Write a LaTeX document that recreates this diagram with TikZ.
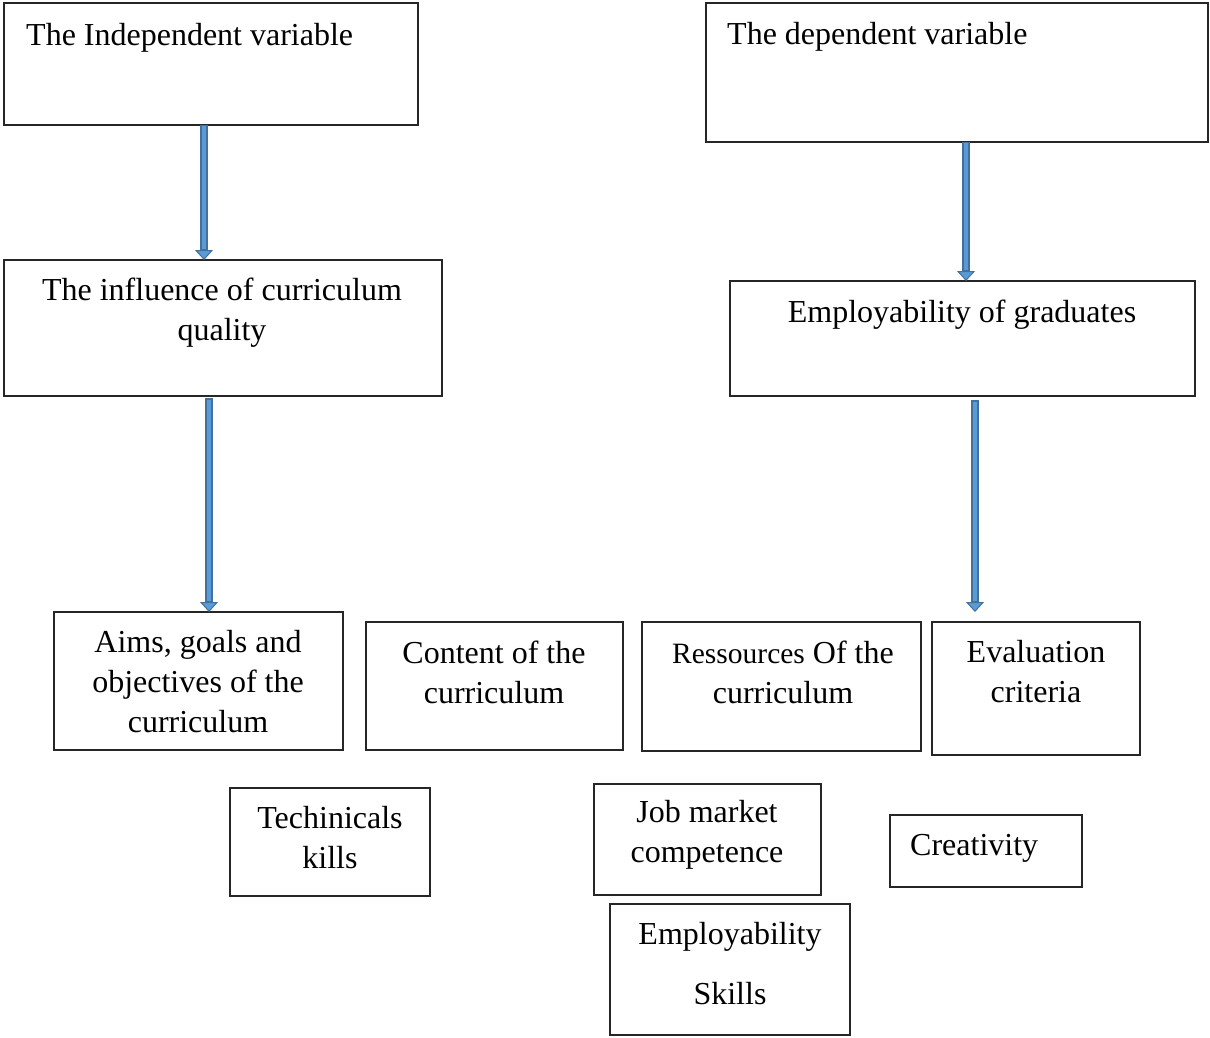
\documentclass[tikz,border=0pt]{standalone}
\usepackage{fontspec}
\setmainfont{Liberation Serif}
\usetikzlibrary{arrows.meta}
\definecolor{arrline}{HTML}{41719C}
\definecolor{arrfill}{HTML}{5B9BD5}
\newcommand\mybox[5]{\node[box, minimum width={(#4-#2)*1pt}, minimum height={(#5-#3)*1pt}] (#1) at ({(#2+#4)/2},{(#3+#5)/2}) {};}
\begin{document}
\begin{tikzpicture}[x=1pt,y=-1pt,
  box/.style={draw=black!85, line width=1.3pt, inner sep=0pt, outer sep=0pt, fill=white},
  txt/.style={inner sep=0pt, font=\fontsize{32}{40}\selectfont, align=center},
  arrouter/.style={draw=arrline, line width=8pt, -{Triangle[width=18pt,length=10pt,line width=1pt,fill=arrfill]}},
  arrinner/.style={draw=arrfill, line width=3.5pt, shorten <=1.5pt, shorten >=11pt}
]
\useasboundingbox[fill=white] (0,0) rectangle (1210,1038);

\mybox{b1}{4}{3}{418}{125}
\mybox{b2}{706}{3}{1208}{142}
\mybox{b3}{4}{260}{442}{396}
\mybox{b4}{730}{281}{1195}{396}
\mybox{b5}{54}{612}{343}{750}
\mybox{b6}{366}{622}{623}{750}
\mybox{b7}{642}{622}{921}{751}
\mybox{b8}{932}{622}{1140}{755}
\mybox{b9}{230}{788}{430}{896}
\mybox{b10}{594}{784}{821}{895}
\mybox{b11}{890}{815}{1082}{887}
\mybox{b12}{610}{904}{850}{1035}

\node[txt, anchor=west] (t1) at (26,38) {The Independent variable};
\node[txt, anchor=west] (t2) at (727,37) {The dependent variable};
\node[txt] (t3) at (222,313) {The influence of curriculum\\quality};
\node[txt] (t4) at (962,315) {Employability of graduates};
\node[txt] (t5) at (198,682) {Aims, goals and\\objectives of the\\curriculum};
\node[txt] (t6) at (494,672) {Content of the\\curriculum};
\node[txt] (t7) at (783,672) {{\fontsize{29.5}{40}\selectfont Ressources} Of the\\curriculum};
\node[txt] (t8) at (1036,672) {Evaluation\\criteria};
\node[txt] (t9) at (330,838) {Techinicals\\kills};
\node[txt] (t10) at (707,835) {Job market\\competence};
\node[txt, anchor=west] (t11) at (910,848) {Creativity};
\node[txt] (t12) at (730,964) {Employability\\[20pt]Skills};

\coordinate (ax1) at (204,0);
\coordinate (ax2) at (209,0);
\coordinate (ax3) at (966,0);
\coordinate (ax4) at (975,0);

\draw[arrouter] (b1.south -| ax1) -- (b3.north -| ax1);
\draw[arrinner] (b1.south -| ax1) -- (b3.north -| ax1);
\draw[arrouter] ([yshift=-2pt]b3.south -| ax2) -- (b5.north -| ax2);
\draw[arrinner] ([yshift=-2pt]b3.south -| ax2) -- (b5.north -| ax2);
\draw[arrouter] (b2.south -| ax3) -- (b4.north -| ax3);
\draw[arrinner] (b2.south -| ax3) -- (b4.north -| ax3);
\draw[arrouter] ([yshift=-4pt]b4.south -| ax4) -- ([yshift=10pt]b8.north -| ax4);
\draw[arrinner] ([yshift=-4pt]b4.south -| ax4) -- ([yshift=10pt]b8.north -| ax4);
\end{tikzpicture}
\end{document}
